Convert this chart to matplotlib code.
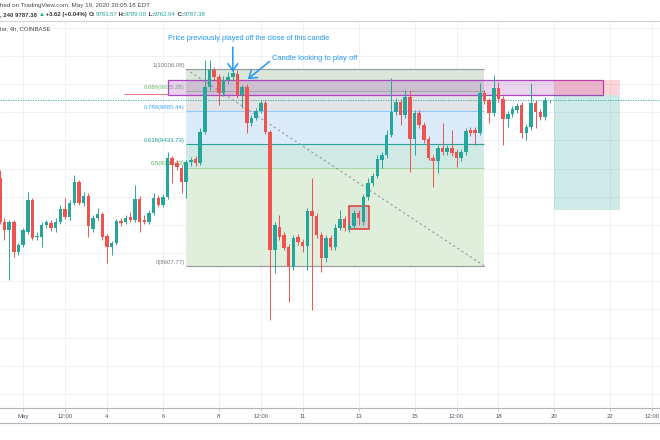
import matplotlib
matplotlib.use("Agg")

import matplotlib.dates as mdates
import matplotlib.pyplot as plt
import numpy as np
import pandas as pd
from matplotlib.lines import Line2D
from matplotlib.patches import Rectangle

plt.rcParams["font.family"] = ["Liberation Sans", "DejaVu Sans"]

UP = "#26a69a"
DOWN = "#ef5350"
BLUE = "#2196f3"
GRID = "#eceff4"
AXIS = "#b2b5be"

# BTC/USD 4h bars, COINBASE
first_bar = "2020-04-30 04:00"
opens = [9232, 8920, 8863, 8920, 8707, 8757, 8849, 9076, 8813, 8813,
         8899, 8913, 8877, 8920, 9012, 8955, 9055, 9204, 9055, 9105,
         8870, 8948, 8977, 8820, 8743, 8771, 8927, 8920, 8955, 8934,
         9083, 8934, 8920, 8984, 9090, 9041, 9097, 9374, 9339, 9303,
         9204, 9346, 9367, 9339, 9559, 9878, 9999, 9949, 9836, 9928,
         9949, 9971, 9822, 9878, 9623, 9658, 9708, 9765, 9559, 8721,
         8885, 8828, 8743, 8601, 8813, 8778, 8750, 8998, 8963, 8828,
         8665, 8806, 8743, 8877, 8941, 8870, 8892, 8984, 8920, 9097,
         9197, 9247, 9360, 9396, 9538, 9701, 9772, 9680, 9807, 9509,
         9694, 9608, 9509, 9374, 9353, 9445, 9417, 9445, 9417, 9374,
         9417, 9573, 9573, 9552, 9836, 9786, 9694, 9871, 9793, 9651,
         9687, 9715, 9751, 9552, 9594, 9765, 9701, 9665, 9783.57]
highs = [9289, 8948, 8934, 8934, 8771, 8877, 9133, 9090, 8849, 8920,
         8934, 8934, 8948, 9041, 9090, 9076, 9254, 9218, 9133, 9126,
         8970, 9019, 8991, 8835, 8785, 8941, 8948, 8970, 8991, 9183,
         9105, 8970, 9005, 9126, 9112, 9119, 9417, 9388, 9360, 9325,
         9360, 9381, 9388, 9587, 10070, 10070, 10020, 9971, 9956, 9985,
         10013, 9999, 9892, 9900, 9680, 9729, 9786, 9786, 9573, 8920,
         8970, 8849, 8764, 8828, 8835, 8799, 9019, 9232, 8984, 8849,
         8828, 8828, 8906, 9005, 8963, 8920, 9005, 9005, 9119, 9232,
         9268, 9396, 9417, 9573, 9942, 9800, 9793, 9857, 9857, 9715,
         9715, 9630, 9530, 9396, 9467, 9623, 9467, 9573, 9438, 9438,
         9587, 9594, 9594, 9907, 9857, 9800, 9963, 9914, 9814, 9708,
         9743, 9765, 9772, 9616, 9907, 9786, 9722, 9807, 9789.00]
lows = [8906, 8792, 8508, 8672, 8686, 8743, 8835, 8792, 8792, 8743,
        8877, 8856, 8849, 8906, 8941, 8934, 9041, 9041, 9034, 8813,
        8849, 8934, 8792, 8629, 8686, 8757, 8892, 8906, 8920, 8920,
        8849, 8906, 8906, 8970, 9026, 9026, 9083, 9197, 9289, 9126,
        9090, 9317, 9317, 9325, 9545, 9857, 9928, 9751, 9814, 9900,
        9928, 9800, 9729, 9552, 9601, 9644, 9694, 9545, 8224, 8558,
        8792, 8721, 8352, 8579, 8757, 8707, 8579, 8295, 8806, 8565,
        8636, 8721, 8721, 8863, 8856, 8849, 8870, 8899, 8899, 9076,
        9176, 9232, 9303, 9374, 9523, 9680, 9608, 9658, 9275, 9396,
        9587, 9481, 9360, 9168, 9268, 9396, 9396, 9388, 9310, 9353,
        9396, 9530, 9467, 9538, 9758, 9623, 9672, 9772, 9467, 9594,
        9665, 9694, 9516, 9502, 9573, 9587, 9644, 9644, 9762.94]
closes = [8920, 8863, 8920, 8707, 8757, 8863, 9076, 8806, 8820, 8899,
          8920, 8877, 8920, 9012, 8955, 9055, 9204, 9055, 9105, 8892,
          8948, 8977, 8813, 8743, 8771, 8927, 8913, 8948, 8934, 9083,
          8920, 8920, 8984, 9090, 9041, 9097, 9374, 9325, 9310, 9204,
          9346, 9360, 9339, 9559, 9878, 9999, 9949, 9836, 9928, 9949,
          9978, 9822, 9878, 9623, 9658, 9708, 9765, 9559, 8721, 8899,
          8813, 8736, 8601, 8806, 8778, 8750, 8998, 8963, 8828, 8665,
          8806, 8743, 8877, 8941, 8877, 8892, 8984, 8948, 9097, 9197,
          9247, 9367, 9396, 9538, 9701, 9772, 9680, 9807, 9509, 9694,
          9608, 9502, 9374, 9353, 9445, 9417, 9445, 9410, 9374, 9417,
          9566, 9552, 9552, 9836, 9779, 9694, 9871, 9793, 9651, 9687,
          9722, 9743, 9552, 9594, 9765, 9701, 9665, 9784, 9787.38]

tick_times = ["2020-05-01 00:00", "2020-05-02 12:00", "2020-05-04 00:00", "2020-05-06 00:00",
              "2020-05-08 00:00", "2020-05-09 12:00", "2020-05-11 00:00", "2020-05-13 00:00",
              "2020-05-15 00:00", "2020-05-16 12:00", "2020-05-18 00:00", "2020-05-20 00:00",
              "2020-05-22 00:00", "2020-05-23 12:00"]
tick_labels = ["May", "12:00", "4", "6", "8", "12:00", "11", "13", "15", "12:00", "18", "20", "22", "12:00"]

# fib retracement drawn on the chart
fib_start = "2020-05-06 20:00"
fib_end = "2020-05-17 12:00"
fib_high = 10006.08
fib_low = 8607.77
fib_levels = [1, 0.886, 0.786, 0.618, 0.5, 0]
fib_labels = ["1(10006.08)", "0.886(9935.28)", "0.786(9885.44)", "0.618(9433.73)", "0.5(9306.93)", "0(8607.77)"]
fib_text_colors = ["#787b86", "#66bb6a", "#42a5f5", "#26a69a", "#4caf50", "#787b86"]
fib_line_colors = ["#9598a1", "#a5c8a5", "#90caf9", "#26a69a", "#a5d6a7", "#9598a1"]
fib_fill_colors = ["#dae6d9", "#e2e3e6", "#dcebfa", "#d0e9e5", "#e0efdb"]

# zone, short position and marked candles
zone_start, zone_end = "2020-05-06 04:00", "2020-05-21 18:00"
zone_top, zone_bottom = 9931, 9822
short_start, short_end = "2020-05-20 00:00", "2020-05-22 08:00"
short_entry, short_stop, short_target = 9822, 9931, 9005
box_start, box_end = "2020-05-12 16:00", "2020-05-13 09:00"
box_top, box_bottom = 9034, 8870
level_line_start = "2020-05-04 15:00"
level_line_price = 9829


def t(s):
    return mdates.date2num(pd.Timestamp(s))


def main():
    times = pd.date_range(first_bar, periods=len(opens), freq="4h")
    x = mdates.date2num(times)
    o, h, l, c = (np.asarray(v, dtype=float) for v in (opens, highs, lows, closes))
    colors = np.where(c >= o, UP, DOWN)

    fig = plt.figure(figsize=(6.6, 4.4), dpi=100)
    ax = fig.add_axes([0, 32 / 440, 1, 386 / 440])

    # candles
    body = np.maximum(np.abs(c - o), 6)
    ax.vlines(x, l, h, colors=colors, linewidth=0.7, zorder=4)
    ax.bar(x, body, width=0.75 / 6, bottom=np.minimum(o, c), color=colors, linewidth=0, zorder=4.1)

    # fib retracement
    xs, xe = t(fib_start), t(fib_end)
    prices = [fib_low + lv * (fib_high - fib_low) for lv in fib_levels]
    for i in range(len(prices) - 1):
        ax.fill_between([xs, xe], prices[i], prices[i + 1], color=fib_fill_colors[i], linewidth=0, zorder=1)
    for p, lab, tc, lc in zip(prices, fib_labels, fib_text_colors, fib_line_colors):
        ax.hlines(p, xs, xe, color=lc, linewidth=0.8, zorder=1.5)
        ax.text(xs - 0.05, p + 8, lab, ha="right", va="bottom", fontsize=4.3, color=tc, zorder=2)
    ax.plot([xs, xe], [fib_high, fib_low], color="#9598a1", linestyle=(0, (2, 2.5)), linewidth=0.8, zorder=2)

    # purple zone
    ax.add_patch(Rectangle((t(zone_start), zone_bottom), t(zone_end) - t(zone_start), zone_top - zone_bottom,
                           facecolor=(0.61, 0.15, 0.69, 0.2), edgecolor="#ab47bc", linewidth=0.9, zorder=2.5))
    ax.hlines(level_line_price, t(level_line_start), t(zone_start), color="#e57373", linewidth=0.7, zorder=2.5)

    # short position tool
    sw = t(short_end) - t(short_start)
    ax.add_patch(Rectangle((t(short_start), short_entry), sw, short_stop - short_entry,
                           facecolor=(0.95, 0.21, 0.27, 0.2), linewidth=0, zorder=2.6))
    ax.add_patch(Rectangle((t(short_start), short_target), sw, short_entry - short_target,
                           facecolor=(0.03, 0.6, 0.51, 0.2), linewidth=0, zorder=2.6))

    # marked candles
    ax.add_patch(Rectangle((t(box_start), box_bottom), t(box_end) - t(box_start), box_top - box_bottom,
                           facecolor=(0.55, 0.45, 0.65, 0.25), edgecolor="#e53935", linewidth=1.1, zorder=3.5))

    # last price line
    ax.axhline(closes[-1], color=UP, linewidth=0.6, linestyle=(0, (1.5, 1.5)), zorder=3)

    # notes
    head = "->,head_length=0.5,head_width=0.35"
    ax.annotate("", xy=(t("2020-05-08 12:00"), 9985), xytext=(t("2020-05-08 12:00"), 10162),
                arrowprops=dict(arrowstyle=head, color=BLUE, lw=1.1, shrinkA=0, shrinkB=0), zorder=6)
    ax.text(t("2020-05-09 01:30"), 10226, "Price previously played off the close of this candle",
            ha="center", va="center", color=BLUE, fontsize=5.3, zorder=6)
    ax.annotate("", xy=(t("2020-05-09 01:00"), 9935), xytext=(t("2020-05-09 19:30"), 10060),
                arrowprops=dict(arrowstyle=head, color=BLUE, lw=1.1, shrinkA=0, shrinkB=0), zorder=6)
    ax.text(t("2020-05-09 21:40"), 10084, "Candle looking to play off",
            ha="left", va="center", color=BLUE, fontsize=5.4, zorder=6)

    # axes
    ax.set_xlim(t("2020-04-30 04:10"), t("2020-05-23 18:40"))
    ax.set_ylim(7600, 10340)
    ax.set_yticks(np.arange(7700, 10400, 200))
    ax.set_xticks([t(s) for s in tick_times])
    ax.set_xticklabels(tick_labels, fontsize=4.3, color="#50535e")
    ax.tick_params(axis="x", length=2, width=0.5, color=AXIS, pad=2.5)
    ax.tick_params(axis="y", left=False, labelleft=False)
    ax.grid(True, color=GRID, linewidth=0.6)
    ax.set_axisbelow(True)
    for side in ("top", "left", "right"):
        ax.spines[side].set_visible(False)
    ax.spines["bottom"].set_color(AXIS)
    ax.spines["bottom"].set_linewidth(0.8)

    # header
    fig.add_artist(Line2D([0, 1], [1 - 21 / 440] * 2, color="#d1d4dc", linewidth=0.8))
    fig.add_artist(Line2D([0, 1], [1 - 423 / 440] * 2, color=AXIS, linewidth=0.8))
    fig.text(0.0, 1 - 6 / 440, "hed on TradingView.com, May 19, 2020 20:05:18 EDT",
             fontsize=4.5, color="#4a4a4a", va="center")
    ax.text(0.0, 1 - 7 / 386, "lar, 4h, COINBASE", transform=ax.transAxes,
            fontsize=4.3, color="#4a4a4a", va="center")

    parts = [(", 240 9787.38 ", "#333333"), ("\u25b2", UP), (" +3.62 (+0.04%) ", "#333333"),
             ("O:", "#333333"), ("9783.57", UP), (" H:", "#333333"), ("9789.00", UP),
             (" L:", "#333333"), ("9762.94", UP), (" C:", "#333333"), ("9787.38", UP)]
    prev = fig.text(0.0, 1 - 17 / 440, parts[0][0], fontsize=4.3, color=parts[0][1],
                    va="bottom", fontweight="bold")
    for s, col in parts[1:]:
        prev = ax.annotate(s, xy=(1, 0), xycoords=prev, va="bottom", ha="left", fontsize=4.3,
                           color=col, annotation_clip=False,
                           fontweight="bold" if col != UP else "normal")

    fig.savefig("out.png", dpi=100)
    plt.close(fig)


if __name__ == "__main__":
    main()
